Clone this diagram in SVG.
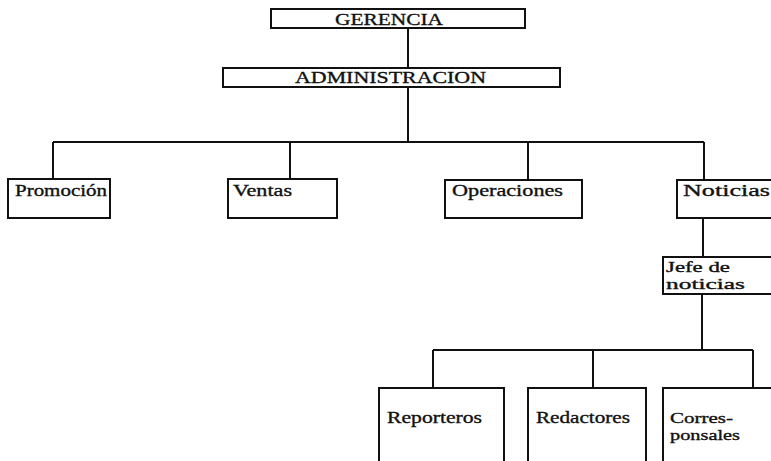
<svg xmlns="http://www.w3.org/2000/svg" width="771" height="461" viewBox="0 0 771 461">
<style>
.box{fill:none;stroke:#111;stroke-width:2}
.ln{fill:none;stroke:#111;stroke-width:2}
text{font-family:"Liberation Serif","Times New Roman",serif;font-size:17px;fill:#111;stroke:#111;stroke-width:0.35}
text.two{font-size:15px}
</style>
<rect width="771" height="461" fill="#fff"/>
<g id="connectors">
<path class="ln" d="M408 28V68"/>
<path class="ln" d="M408 87V142"/>
<path class="ln" d="M53 142H704"/>
<path class="ln" d="M53 142V179M290 142V179M528 142V180M704 142V180"/>
<path class="ln" d="M703 218V258"/>
<path class="ln" d="M702 294V350"/>
<path class="ln" d="M433 350H753"/>
<path class="ln" d="M433 350V388M593 350V388M753 350V388"/>
</g>
<g id="gerencia"><rect class="box" x="271" y="9" width="254" height="19"/><text x="335" y="25" textLength="108" lengthAdjust="spacingAndGlyphs">GERENCIA</text></g>
<g id="administracion"><rect class="box" x="223" y="68" width="337" height="19"/><text x="295" y="83" textLength="191" lengthAdjust="spacingAndGlyphs">ADMINISTRACION</text></g>
<g id="promocion"><rect class="box" x="8" y="179" width="102" height="39"/><text x="15" y="196" textLength="92" lengthAdjust="spacingAndGlyphs">Promoción</text></g>
<g id="ventas"><rect class="box" x="228" y="179" width="109" height="39"/><text x="233" y="196" textLength="59" lengthAdjust="spacingAndGlyphs">Ventas</text></g>
<g id="operaciones"><rect class="box" x="445" y="180" width="137" height="38"/><text x="452" y="196" textLength="111" lengthAdjust="spacingAndGlyphs">Operaciones</text></g>
<g id="noticias"><rect class="box" x="677" y="180" width="100" height="38"/><text x="683" y="196" textLength="87" lengthAdjust="spacingAndGlyphs">Noticias</text></g>
<g id="jefe"><rect class="box" x="663" y="257" width="110" height="37"/><text class="two" x="666" y="272" textLength="64" lengthAdjust="spacingAndGlyphs">Jefe de</text><text class="two" x="666" y="289" textLength="79" lengthAdjust="spacingAndGlyphs">noticias</text></g>
<g id="reporteros"><rect class="box" x="379" y="388" width="125" height="80"/><text x="387" y="423" textLength="95" lengthAdjust="spacingAndGlyphs">Reporteros</text></g>
<g id="redactores"><rect class="box" x="528" y="388" width="118" height="80"/><text x="536" y="423" textLength="94" lengthAdjust="spacingAndGlyphs">Redactores</text></g>
<g id="corresponsales"><rect class="box" x="663" y="388" width="120" height="80"/><text class="two" x="670" y="423" textLength="63" lengthAdjust="spacingAndGlyphs">Corres-</text><text class="two" x="670" y="440" textLength="70" lengthAdjust="spacingAndGlyphs">ponsales</text></g>
</svg>
